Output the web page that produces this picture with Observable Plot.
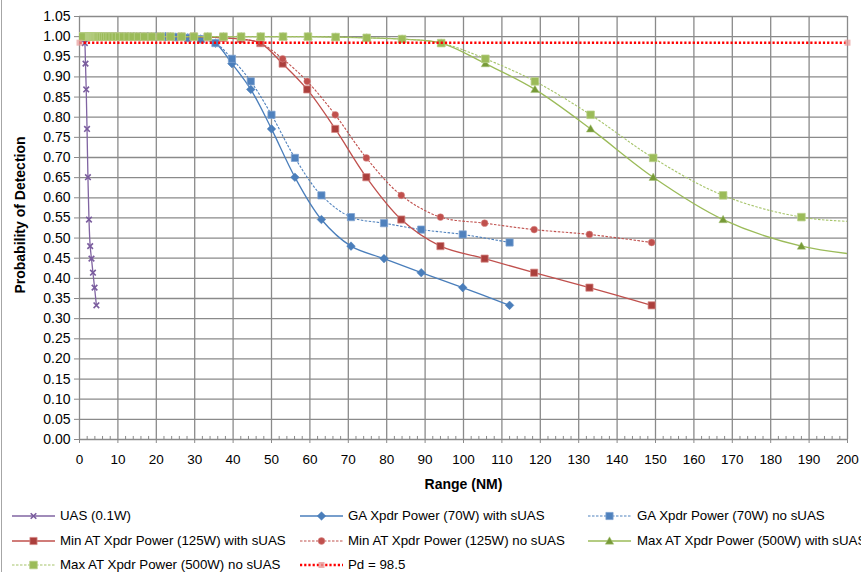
<!DOCTYPE html>
<html><head><meta charset="utf-8">
<script src="https://cdn.jsdelivr.net/npm/d3@7"></script>
<script src="https://cdn.jsdelivr.net/npm/@observablehq/plot@0.6"></script>
<style>
body{margin:0;background:#fff;width:861px;height:572px;overflow:hidden;position:relative;font-family:"Liberation Sans",Arial,sans-serif;}
#chart svg{display:block}
#legend{position:relative;width:861px;height:72px;color:#000;}
.lt{position:absolute;height:20px;line-height:20px;white-space:nowrap;font-size:13.3px}
.border{position:absolute;left:1px;top:0;width:1px;height:572px;background:#a6a6a6}
</style></head><body>
<div id="chart"></div><div id="legend"></div><div class="border"></div>
<script>
// ---- data ----
const xTicks = [0,10,20,30,40,50,60,70,80,90,100,110,120,130,140,150,160,170,180,190,200];
const yTicks = [0,0.05,0.10,0.15,0.20,0.25,0.30,0.35,0.40,0.45,0.50,0.55,0.60,0.65,0.70,0.75,0.80,0.85,0.90,0.95,1.00,1.05];
const minorTicks = [2,4,6,8,12,14,16,18,22,24,26,28,32,34,36,38,42,44,46,48,52,54,56,58,62,64,66,68,72,74,76,78,82,84,86,88,92,94,96,98,102,104,106,108,112,114,116,118,122,124,126,128,132,134,136,138,142,144,146,148,152,154,156,158,162,164,166,168,172,174,176,178,182,184,186,188,192,194,196,198];

// ranges (NM) for each transmitter
const uasRange = [4.40,3.92,3.50,3.12,2.78,2.47,2.20,1.96,1.75,1.56,1.39,1.24,1.10,0.98,0.88,0.78,0.70,0.62,0.55,0.49,0.44,0.39,0.35,0.31,0.28,0.25,0.22,0.20,0.17,0.16];
const gaRange = [112.0,99.8,89.0,79.3,70.7,63.0,56.1,50.0,44.6,39.7,35.4,31.6,28.2,25.1,22.4,19.9,17.8,15.8,14.1,12.6,11.2,10.0,8.9,7.9,7.1,6.3,5.6,5.0,4.5,4.0,3.5,3.2,2.8,2.5,2.2,2.0,1.78,1.58,1.41,1.26,1.12,1.0,0.89,0.79,0.71,0.63,0.56,0.50,0.45,0.40,0.35,0.32,0.28,0.25,0.22,0.20];
const minAtRange = [149.0,132.8,118.4,105.5,94.0,83.8,74.7,66.6,59.3,52.9,47.1,42.0,37.4,33.4,29.7,26.5,23.6,21.0,18.7,16.7,14.9,13.3,11.8,10.5,9.4,8.4,7.5,6.7,5.9,5.3,4.7,4.2,3.7,3.3,3.0,2.65,2.36,2.1,1.88,1.67,1.49,1.33,1.18,1.05,0.94,0.84,0.75,0.67,0.59,0.53,0.47,0.42,0.37,0.33,0.30,0.27];
const maxAtRange = [298.0,265.6,236.7,211.0,188.0,167.6,149.4,133.1,118.6,105.7,94.2,84.0,74.8,66.7,59.5,53.0,47.2,42.1,37.5,33.4,29.8,26.6,23.7,21.1,18.8,16.8,14.9,13.3,11.9,10.6,9.4,8.4,7.5,6.7,5.9,5.3,4.7,4.2,3.75,3.34,2.98,2.66,2.37,2.11,1.88,1.68,1.49,1.33,1.19,1.06,0.94,0.84,0.75,0.67,0.59,0.53];

// probability of detection, same order as the ranges
const pdWithSUAS = [0.333,0.377,0.414,0.449,0.480,0.546,0.651,0.771,0.869,0.933,0.984,0.994,0.997,0.999,1,1,1,1,1,1,1,1,1,1,1,1,1,1,1,1,1,1,1,1,1,1,1,1,1,1,1,1,1,1,1,1,1,1,1,1,1,1,1,1,1,1];
const pdNoSUAS = [0.489,0.509,0.521,0.537,0.552,0.606,0.699,0.806,0.889,0.945,0.984,0.994,0.997,0.999,1,1,1,1,1,1,1,1,1,1,1,1,1,1,1,1,1,1,1,1,1,1,1,1,1,1,1,1,1,1,1,1,1,1,1,1,1,1,1,1,1,1];
const pdThresholdX = [0, 200];
const pdThresholdY = [0.985, 0.985];

const seriesNames = ["UAS (0.1W)","GA Xpdr Power (70W) with sUAS","GA Xpdr Power (70W) no sUAS","Min AT Xpdr Power (125W) with sUAS","Min AT Xpdr Power (125W) no sUAS","Max AT Xpdr Power (500W) with sUAS","Max AT Xpdr Power (500W) no sUAS","Pd = 98.5"];

// ---- symbols ----
const R = s => Math.sqrt(s/Math.PI);
const sym = {
  square:{draw(c,s){const r=R(s);c.moveTo(-r,-r);c.lineTo(r,-r);c.lineTo(r,r);c.lineTo(-r,r);c.closePath();}},
  diamond:{draw(c,s){const r=R(s);c.moveTo(0,-r);c.lineTo(r,0);c.lineTo(0,r);c.lineTo(-r,0);c.closePath();}},
  triangle:{draw(c,s){const r=R(s);c.moveTo(0,-r);c.lineTo(r,r*0.75);c.lineTo(-r,r*0.75);c.closePath();}},
  circle:{draw(c,s){const r=R(s);c.moveTo(r,0);c.arc(0,0,r,0,2*Math.PI);c.closePath();}},
  times:{draw(c,s){const r=R(s);c.moveTo(-r,-r);c.lineTo(r,r);c.moveTo(r,-r);c.lineTo(-r,r);}}
};

const series = [
  {name:seriesNames[0], xs:uasRange, ys:pdWithSUAS, line:"#8064A2", dash:null, sym:"times", r:2.8, fill:"none", mstroke:"#7A5C9E", msw:1.6},
  {name:seriesNames[1], xs:gaRange, ys:pdWithSUAS, line:"#4A7EBB", dash:null, sym:"diamond", r:4.3, fill:"#4A7EBB", mstroke:"#4A7EBB", msw:0.5},
  {name:seriesNames[2], xs:gaRange, ys:pdNoSUAS, line:"#4F81BD", dash:"2.5,1.5", sym:"square", r:3.6, fill:"#4F81BD", mstroke:"#7FA3D1", msw:0.75},
  {name:seriesNames[3], xs:minAtRange, ys:pdWithSUAS, line:"#C0504D", dash:null, sym:"square", r:3.6, fill:"#AB3F3C", mstroke:"#D88C8A", msw:0.75},
  {name:seriesNames[4], xs:minAtRange, ys:pdNoSUAS, line:"#C0504D", dash:"2.5,1.5", sym:"circle", r:3.4, fill:"#C0504D", mstroke:"#D88C8A", msw:0.5},
  {name:seriesNames[5], xs:maxAtRange, ys:pdWithSUAS, line:"#9BBB59", dash:null, sym:"triangle", r:4.2, fill:"#779A38", mstroke:"#A9C57A", msw:0.5},
  {name:seriesNames[6], xs:maxAtRange, ys:pdNoSUAS, line:"#A6C46A", dash:"2.5,1.5", sym:"square", r:3.8, fill:"#9BBB59", mstroke:"#B9D089", msw:0.75}
];
series.forEach(s => { s.data = s.xs.map((x,i) => ({x, y: s.ys[i]})); });
const pdData = pdThresholdX.map((x,i) => ({x, y: pdThresholdY[i]}));

const gridC = "#8a8a8a";
const marks = [
  Plot.gridX(xTicks, {stroke:gridC, strokeOpacity:1, strokeWidth:1.3}),
  Plot.gridY(yTicks, {stroke:gridC, strokeOpacity:1, strokeWidth:1.3}),
  Plot.ruleX(minorTicks, {y1:0, y2:0.0075, stroke:gridC, strokeWidth:1}),
  Plot.axisX(xTicks, {tickSize:4, tickPadding:11, fontSize:13.5, stroke:gridC, label:null, tickFormat:d=>String(d)}),
  Plot.axisY(yTicks, {tickSize:5, tickPadding:4, fontSize:14, stroke:gridC, label:null, tickFormat:d=>d.toFixed(2)}),
  Plot.text(["Range (NM)"], {frameAnchor:"bottom", dy:49, fontWeight:"bold", fontSize:14}),
  Plot.text(["Probability of Detection"], {frameAnchor:"left", textAnchor:"middle", dx:-59, dy:-13, rotate:-90, fontWeight:"bold", fontSize:14})
];
for (const s of series) {
  marks.push(Plot.line(s.data, {x:"x", y:"y", curve:"catmull-rom", stroke:s.line, strokeWidth:s.dash?1.1:1.3, strokeDasharray:s.dash||undefined, strokeLinecap:"butt", clip:true}));
  marks.push(Plot.dot(s.data, {x:"x", y:"y", symbol:sym[s.sym], r:s.r, fill:s.fill, stroke:s.mstroke, strokeWidth:s.msw, clip:true}));
}
marks.push(Plot.line(pdData, {x:"x", y:"y", stroke:"#FF0000", strokeWidth:2.5, strokeDasharray:"2.2,2", strokeLinecap:"butt"}));
marks.push(Plot.dot(pdData, {x:"x", y:"y", symbol:sym.square, r:3, fill:"#E79A98", fillOpacity:0.7}));

const chart = Plot.plot({
  width:861, height:500, marginLeft:79, marginRight:14, marginTop:16, marginBottom:61,
  style:{fontFamily:'"Liberation Sans", Arial, sans-serif', fontSize:"13px", color:"#000", background:"#fff", overflow:"visible"},
  x:{domain:[0,200]}, y:{domain:[0,1.05]},
  marks
});
document.getElementById("chart").append(chart);

// ---- legend ----
const legend = d3.select("#legend");
const colsSample = [12, 300, 588], colsText = [60, 348, 637], rowsTop = [6, 31, 55];
const legendEntries = series.map(s => ({...s})).concat([{name:seriesNames[7], line:"#FF0000", dash:"2.2,2", lw:2.5, sym:"square", r:3, fill:"#E79A98", mstroke:"none", msw:0, fop:0.8}]);
legendEntries.forEach((s, i) => {
  const col = i % 3, row = Math.floor(i / 3);
  const svg = legend.append("svg").attr("width", 44).attr("height", 20)
    .style("position","absolute").style("left", colsSample[col]+"px").style("top", rowsTop[row]+"px");
  svg.append("line").attr("x1",0).attr("x2",43).attr("y1",10).attr("y2",10)
    .attr("stroke", s.line).attr("stroke-width", s.lw || (s.dash?1.1:1.3)).attr("stroke-dasharray", s.dash || null);
  svg.append("path").attr("transform","translate(21.5,10)")
    .attr("d", d3.symbol(sym[s.sym], Math.PI*s.r*s.r)())
    .attr("fill", s.fill).attr("fill-opacity", s.fop || 1).attr("stroke", s.mstroke).attr("stroke-width", s.msw);
  legend.append("div").attr("class","lt").style("left", colsText[col]+"px").style("top", rowsTop[row]+"px").text(s.name);
});
</script>
</body></html>
